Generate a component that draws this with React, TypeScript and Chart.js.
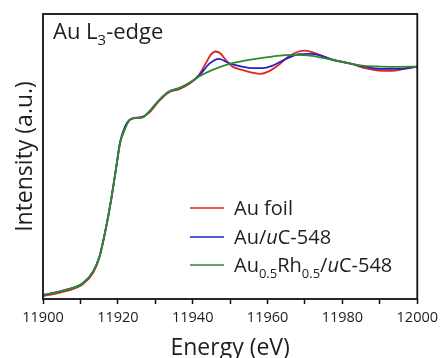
import { useEffect, useRef } from "react";
import { Chart, registerables } from "chart.js";
Chart.register(...registerables);

const xTickValues = [11900, 11920, 11940, 11960, 11980, 12000];
const seriesNames = ["Au foil", "Au/uC-548", "Au0.5Rh0.5/uC-548"];

const foilE = [11900, 11906.3, 11910.7, 11913.4, 11915.1, 11916.9, 11918.2, 11919.6, 11920.6, 11921.8, 11923.1, 11924.9, 11926.7, 11928.4, 11931.1, 11933.7, 11936.4, 11939.1, 11941.7, 11943.5, 11944.8, 11946.1, 11947.5, 11948.8, 11950.6, 11953.2, 11955.9, 11958.1, 11960.3, 11963, 11965.6, 11968.3, 11970.1, 11972.7, 11977.1, 11982.5, 11986, 11989.6, 11993.1, 11996.6, 12000];
const foilI = [-0.002, 0.02, 0.05, 0.1, 0.168, 0.3, 0.417, 0.565, 0.667, 0.725, 0.768, 0.778, 0.782, 0.8, 0.852, 0.889, 0.902, 0.926, 0.965, 1.016, 1.052, 1.067, 1.057, 1.031, 1.001, 0.987, 0.975, 0.969, 0.98, 1.009, 1.045, 1.067, 1.071, 1.06, 1.033, 1.013, 0.994, 0.984, 0.983, 0.991, 1.001];

const auE = [11900, 11906.3, 11910.7, 11913.4, 11915.1, 11916.9, 11918.2, 11919.6, 11920.6, 11921.8, 11923.1, 11924.9, 11926.7, 11928.4, 11931.1, 11933.7, 11936.4, 11939.1, 11941.7, 11944.4, 11947, 11949.7, 11952.3, 11955.9, 11958.5, 11961.2, 11964.7, 11968.3, 11971.8, 11977.1, 11982.5, 11986, 11990.4, 11994.8, 12000];
const auI = [0.003, 0.026, 0.055, 0.106, 0.172, 0.303, 0.419, 0.565, 0.672, 0.735, 0.768, 0.776, 0.78, 0.805, 0.856, 0.892, 0.907, 0.929, 0.961, 1.013, 1.035, 1.016, 1.004, 0.994, 0.994, 1.004, 1.033, 1.055, 1.057, 1.033, 1.013, 1.001, 0.991, 0.991, 1.001];

const alloyE = [11900, 11906.3, 11910.7, 11913.4, 11915.1, 11916.9, 11918.2, 11919.6, 11920.6, 11921.8, 11923.1, 11924.9, 11926.7, 11928.4, 11931.1, 11933.7, 11936.4, 11939.1, 11941.7, 11945.3, 11950.6, 11955.9, 11961.2, 11966.5, 11971.8, 11977.1, 11982.5, 11986, 11990.4, 11994.8, 12000];
const alloyI = [0.003, 0.026, 0.055, 0.106, 0.172, 0.303, 0.419, 0.565, 0.667, 0.725, 0.766, 0.776, 0.78, 0.805, 0.856, 0.892, 0.907, 0.929, 0.958, 0.987, 1.016, 1.033, 1.045, 1.052, 1.048, 1.031, 1.013, 1.004, 1.001, 1.0, 1.001];

const colors = ["#e02525", "#2121c8", "#2e8b2e"];
const FONT = "'Open Sans', sans-serif";
const TEXT = "#1e1e1e";

function pts(e: number[], v: number[]) {
  return e.map((x, i) => ({ x, y: v[i] }));
}

function drawRich(ctx: CanvasRenderingContext2D, x: number, y: number, parts: { t: string; sub?: boolean; it?: boolean }[], size: number) {
  let cx = x;
  for (const p of parts) {
    const s = p.sub ? Math.round(size * 0.66) : size;
    ctx.font = `${p.it ? "italic " : ""}${s}px ${FONT}`;
    ctx.fillText(p.t, cx, p.sub ? y + size * 0.28 : y);
    cx += ctx.measureText(p.t).width;
  }
}

const decor = {
  id: "decor",
  afterDraw(chart: any) {
    const { ctx, chartArea } = chart;
    ctx.save();
    ctx.strokeStyle = "#111";
    ctx.lineWidth = 1.8;
    ctx.strokeRect(chartArea.left, chartArea.top, chartArea.right - chartArea.left, chartArea.bottom - chartArea.top);
    ctx.fillStyle = TEXT;
    ctx.textBaseline = "alphabetic";
    drawRich(ctx, 53, 39, [{ t: "Au L" }, { t: "3", sub: true }, { t: "-edge" }], 22);
    const rows = [
      [{ t: "Au foil" }],
      [{ t: "Au/" }, { t: "u", it: true }, { t: "C-548" }],
      [{ t: "Au" }, { t: "0.5", sub: true }, { t: "Rh" }, { t: "0.5", sub: true }, { t: "/" }, { t: "u", it: true }, { t: "C-548" }],
    ];
    const ys = [208, 237, 265];
    rows.forEach((r, i) => {
      ctx.strokeStyle = colors[i];
      ctx.lineWidth = 1.6;
      ctx.beginPath();
      ctx.moveTo(190, ys[i]);
      ctx.lineTo(224, ys[i]);
      ctx.stroke();
      ctx.fillStyle = TEXT;
      drawRich(ctx, 234, ys[i] + 7, r as any, 20);
    });
    ctx.restore();
  },
};

export default function App() {
  const ref = useRef<HTMLCanvasElement>(null);
  useEffect(() => {
    const c = new Chart(ref.current!, {
      type: "line",
      data: {
        datasets: [
          { label: seriesNames[0], data: pts(foilE, foilI), borderColor: colors[0], order: 2 },
          { label: seriesNames[1], data: pts(auE, auI), borderColor: colors[1], order: 1 },
          { label: seriesNames[2], data: pts(alloyE, alloyI), borderColor: colors[2], order: 0 },
        ].map((d) => ({ ...d, borderWidth: 1.8, pointRadius: 0, fill: false, cubicInterpolationMode: "monotone" as const })),
      },
      options: {
        responsive: false,
        animation: false,
        layout: { padding: { top: 14, right: 24, left: 0, bottom: 0 } },
        plugins: { legend: { display: false }, tooltip: { enabled: false } },
        scales: {
          x: {
            type: "linear",
            min: 11900,
            max: 12000,
            afterBuildTicks: (s: any) => {
              const t: any[] = [];
              for (let v = 11900; v <= 12000; v += 10) t.push({ value: v });
              s.ticks = t;
            },
            ticks: {
              autoSkip: false,
              maxRotation: 0,
              padding: 5,
              color: TEXT,
              font: { family: FONT, size: 14.5 },
              callback: (v: any) => (xTickValues.includes(v) ? String(v) : ""),
            },
            grid: { drawOnChartArea: false, tickLength: 5, color: "#111", tickWidth: 1.5 },
            border: { display: false },
            title: { display: true, text: "Energy (eV)", color: TEXT, font: { family: FONT, size: 23, lineHeight: 0.8 }, padding: { top: 0, bottom: 0 } },
            afterFit: (s: any) => { s.height = 59; },
          },
          y: {
            type: "linear",
            min: -0.015,
            max: 1.231,
            ticks: { display: false },
            grid: { display: false },
            border: { display: false },
            title: { display: true, text: "Intensity (a.u.)", color: TEXT, font: { family: FONT, size: 23 }, padding: { top: 12, bottom: 0 } },
            afterFit: (s: any) => { s.width = 43; },
          },
        },
      },
      plugins: [decor],
    });
    return () => c.destroy();
  }, []);
  return (
    <div style={{ position: "fixed", left: 0, top: 0, width: 443, height: 358, background: "#fff" }}>
      <canvas ref={ref} width={443} height={358} />
    </div>
  );
}
